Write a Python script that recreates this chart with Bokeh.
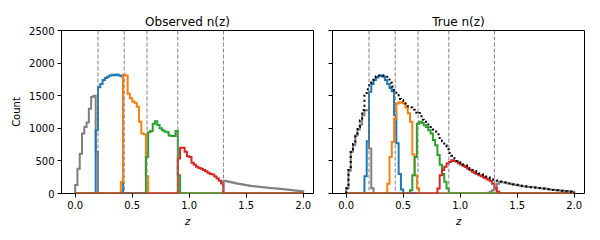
import numpy as np
from bokeh.plotting import figure
from bokeh.layouts import row
from bokeh.models import Range1d, FixedTicker, NumeralTickFormatter, Span
from bokeh.embed import file_html
from bokeh.resources import INLINE

# ---------------- data ----------------
z_lo, z_hi, n_bins = 0.0, 2.0, 100
z_edges = np.linspace(z_lo, z_hi, n_bins + 1)
tomo_edges = [0.2, 0.43, 0.63, 0.9, 1.3]
x_ticks = [0.0, 0.5, 1.0, 1.5, 2.0]
y_ticks = [0, 500, 1000, 1500, 2000, 2500]

# Observed n(z) (counts per bin of width 0.02)
obs_gray = ([130, 380, 610, 920, 1020, 1090, 1300, 1480, 1500, 640] + [0] * 55 +
            [195, 188, 180, 172, 166, 158, 150, 145, 138, 132,
             125, 120, 116, 112, 106, 102, 100, 96, 92, 88,
             85, 82, 80, 76, 72, 70, 66, 62, 58, 55,
             50, 46, 42, 38, 34])
obs_blue = [0] * 9 + [970, 1630, 1680, 1740, 1770, 1790, 1810, 1820, 1815, 1825, 1810, 1800] + [0] * 79
obs_orange = [0] * 20 + [178, 1820, 1810, 1530, 1460, 1410, 1390, 1330, 1100, 920, 910, 265] + [0] * 68
obs_green = [0] * 31 + [560, 940, 960, 1070, 1110, 1050, 1000, 970, 950, 940, 890, 880, 880, 960, 280] + [0] * 54
obs_red = [0] * 45 + [535, 700, 700, 640, 570, 560, 470, 440, 410, 390,
                      380, 360, 340, 320, 300, 290, 260, 230, 195, 155] + [0] * 35

# True n(z)
true_total = [80, 360, 660, 760, 920, 1020, 1120, 1280, 1500, 1600,
              1700, 1740, 1760, 1795, 1810, 1815, 1810, 1790, 1750, 1700,
              1640, 1580, 1530, 1450, 1430, 1400, 1360, 1340, 1320, 1285,
              1240, 1225, 1235, 1130, 1100, 1060, 1040, 1020, 980, 950,
              910, 850, 800, 740, 680, 620, 580, 540, 500, 480,
              460, 445, 430, 410, 380, 360, 340, 320, 305, 290,
              270, 260, 245, 230, 215, 205, 195, 185, 175, 170,
              160, 155, 150, 140, 135, 130, 120, 115, 110, 105,
              100, 96, 92, 88, 84, 80, 75, 70, 65, 60,
              55, 52, 48, 45, 42, 38, 35, 32, 28, 25]
true_gray = ([75, 350, 640, 740, 890, 980, 1060, 1200, 1275, 1275, 690, 80] + [0] * 50 +
             [10, 25, 50, 80, 150, 180, 172, 168, 158, 153,
              148, 138, 133, 128, 118, 113, 108, 103, 98, 96,
              94, 90, 86, 82, 78, 74, 68, 63, 58, 53,
              50, 46, 43, 40, 36, 33, 30, 26])
true_blue = [0] * 8 + [265, 800, 1560, 1680, 1740, 1780, 1800, 1810, 1790, 1740,
                       1680, 1620, 1570, 1200, 770, 300, 60] + [0] * 75
true_orange = [0] * 18 + [150, 560, 790, 1150, 1380, 1400, 1390, 1380, 1320, 1230,
                          1100, 600, 280, 75] + [0] * 68
true_green = [0] * 28 + [50, 280, 560, 1070, 1100, 1080, 1045, 1020, 970, 920,
                         820, 740, 590, 440, 300, 180, 75] + [0] * 55
true_red = [0] * 40 + [75, 280, 360, 410, 460, 485, 510, 500, 490, 465,
                       445, 425, 405, 385, 360, 335, 315, 300, 280, 265,
                       245, 230, 210, 190, 150, 90, 30] + [0] * 33

C_GRAY, C_BLUE, C_ORANGE, C_GREEN, C_RED = "#7f7f7f", "#1f77b4", "#ff7f0e", "#2ca02c", "#d62728"
FONT = "DejaVu Sans"


def step_path(counts):
    xs = np.repeat(z_edges, 2)
    ys = np.concatenate([[0.0], np.repeat(np.asarray(counts, dtype=float), 2), [0.0]])
    return xs, ys


def make_fig(title, left_border, right_border, show_ylabels):
    p = figure(frame_width=252, frame_height=163,
               x_range=Range1d(-0.12, 2.09), y_range=Range1d(0, 2500),
               output_backend="svg", toolbar_location=None, title=title,
               min_border_left=left_border, min_border_right=right_border,
               min_border_top=30, min_border_bottom=40,
               background_fill_color="white", border_fill_color="white")
    p.title.text_font = FONT
    p.title.text_font_size = "12px"
    p.title.text_font_style = "normal"
    p.title.text_color = "black"
    p.title.align = "center"
    p.title.standoff = 4
    p.xgrid.visible = False
    p.ygrid.visible = False
    p.outline_line_color = "black"
    p.outline_line_width = 1
    p.outline_line_alpha = 1.0
    for ax in (p.xaxis[0], p.yaxis[0]):
        ax.axis_line_color = None
        ax.major_tick_out = 4
        ax.major_tick_in = 0
        ax.minor_tick_out = 0
        ax.minor_tick_in = 0
        ax.major_tick_line_color = "black"
        ax.major_tick_line_width = 1
        ax.major_label_text_font = FONT
        ax.major_label_text_font_size = "10px"
        ax.major_label_text_color = "black"
        ax.major_label_standoff = 3
        ax.axis_label_text_font = FONT
        ax.axis_label_text_font_size = "10px"
        ax.axis_label_text_color = "black"
    p.xaxis.ticker = FixedTicker(ticks=x_ticks)
    p.xaxis.formatter = NumeralTickFormatter(format="0.0")
    p.yaxis.ticker = FixedTicker(ticks=y_ticks)
    p.xaxis.axis_label = "z"
    p.xaxis.axis_label_text_font_style = "italic"
    p.xaxis.axis_label_standoff = 4
    if show_ylabels:
        p.yaxis.axis_label = "Count"
        p.yaxis.axis_label_text_font_style = "normal"
        p.yaxis.axis_label_standoff = 4
    else:
        p.yaxis.major_label_overrides = {float(t): "" for t in y_ticks}
        p.yaxis.major_label_standoff = 0
    return p


def add_hist(p, counts, color, dash="solid"):
    xs, ys = step_path(counts)
    p.line(xs, ys, line_color=color, line_width=2, line_join="miter", line_dash=dash)


def add_edges(p):
    for e in tomo_edges:
        p.add_layout(Span(location=e, dimension="height", line_color="#808080",
                          line_width=1, line_dash="4 2"))


p1 = make_fig("Observed n(z)", 61, 9, True)
for counts, color in [(obs_gray, C_GRAY), (obs_blue, C_BLUE), (obs_orange, C_ORANGE),
                      (obs_green, C_GREEN), (obs_red, C_RED)]:
    add_hist(p1, counts, color)
add_edges(p1)

p2 = make_fig("True n(z)", 10, 8, False)
for counts, color in [(true_gray, C_GRAY), (true_blue, C_BLUE), (true_orange, C_ORANGE),
                      (true_green, C_GREEN), (true_red, C_RED)]:
    add_hist(p2, counts, color)
add_hist(p2, true_total, "black", dash="2 3")
add_edges(p2)

layout = row(p1, p2)
open("out.html", "w").write(file_html(layout, INLINE))
